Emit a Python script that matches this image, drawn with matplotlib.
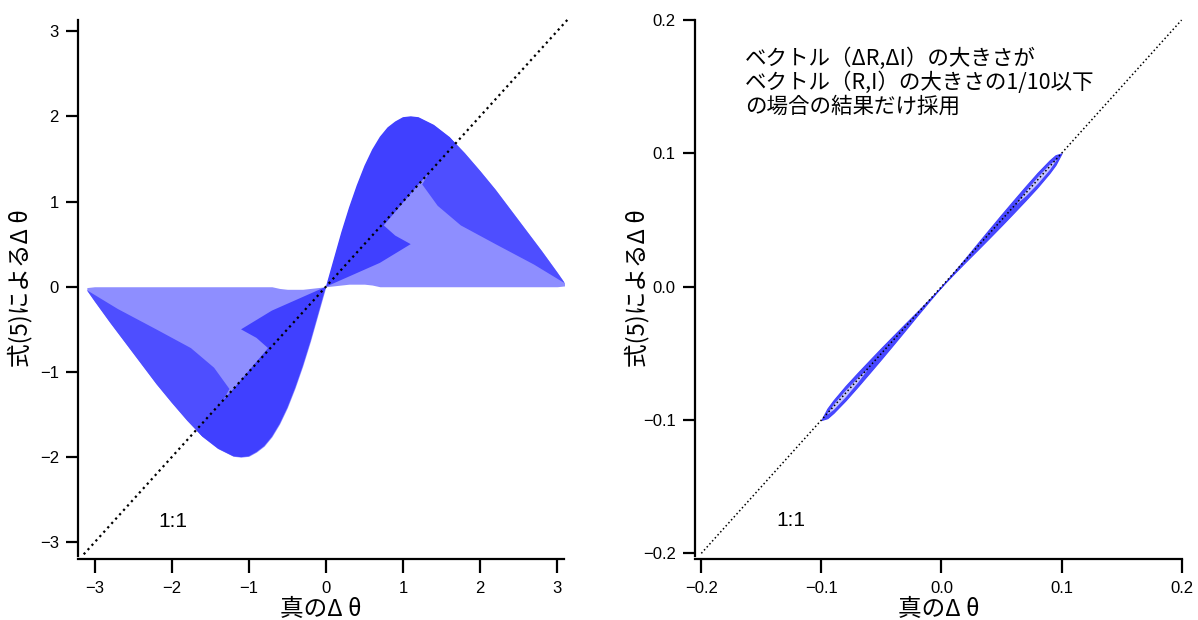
import numpy as np
import matplotlib.pyplot as plt
from matplotlib.ticker import FuncFormatter

# ---- left panel: envelope of the scattered points ----
# x > 0 side
env_x_pos = [0.0, 0.1, 0.2, 0.3, 0.4, 0.5, 0.6, 0.7, 0.8, 0.9, 1.0, 1.1, 1.2,
             1.4, 1.6, 1.8, 2.0, 2.2, 2.4, 2.6, 2.8, 3.0, 3.1]
env_top_pos = [0.0, 0.32, 0.64, 0.93, 1.19, 1.42, 1.61, 1.76, 1.87, 1.94, 1.99, 2.0, 1.99,
               1.9, 1.76, 1.57, 1.36, 1.14, 0.9, 0.66, 0.42, 0.17, 0.04]
env_bot_pos = [0.0, 0.01, 0.02, 0.03, 0.03, 0.03, 0.02, 0.0, 0.0, 0.0, 0.0, 0.0, 0.0,
               0.0, 0.0, 0.0, 0.0, 0.0, 0.0, 0.0, 0.0, 0.0, 0.01]
# x < 0 side
env_x_neg = [0.0, -0.1, -0.2, -0.3, -0.4, -0.5, -0.6, -0.7, -0.8, -0.9, -1.0, -1.1, -1.2,
             -1.4, -1.6, -1.8, -2.0, -2.2, -2.4, -2.6, -2.8, -3.0, -3.1]
env_bot_neg = [0.0, -0.32, -0.64, -0.93, -1.19, -1.42, -1.61, -1.76, -1.87, -1.94, -1.99, -2.0, -1.99,
               -1.9, -1.76, -1.57, -1.36, -1.14, -0.9, -0.66, -0.42, -0.17, -0.04]
env_top_neg = [0.0, -0.01, -0.02, -0.03, -0.03, -0.03, -0.02, 0.0, 0.0, 0.0, 0.0, 0.0, 0.0,
               0.0, 0.0, 0.0, 0.0, 0.0, 0.0, 0.0, 0.0, 0.0, -0.01]

# dense (solid) part: inner edge, going back towards the origin
dense_in_x_pos = [1.68, 1.2, 0.75, 0.9, 1.1, 0.7, 0.0]
dense_in_y_pos = [1.68, 1.2, 0.72, 0.6, 0.5, 0.28, 0.0]
dense_in_x_neg = [-1.68, -1.2, -0.75, -0.9, -1.1, -0.7, 0.0]
dense_in_y_neg = [-1.68, -1.2, -0.72, -0.6, -0.5, -0.28, 0.0]

# striped part of the hump: inner edge
mid_in_x_pos = [3.1, 2.7, 2.2, 1.75, 1.45, 1.25]
mid_in_y_pos = [0.04, 0.26, 0.5, 0.72, 0.95, 1.2]
mid_in_x_neg = [-3.1, -2.7, -2.2, -1.75, -1.45, -1.25]
mid_in_y_neg = [-0.04, -0.26, -0.5, -0.72, -0.95, -1.2]

one_to_one_left = [-3.14, 3.14]

# ---- right panel: thin lens along the 1:1 line ----
lens_x_pos = [0.0, 0.01, 0.02, 0.03, 0.04, 0.05, 0.06, 0.07, 0.08, 0.09, 0.095, 0.1]
lens_x_neg = [0.0, -0.01, -0.02, -0.03, -0.04, -0.05, -0.06, -0.07, -0.08, -0.09, -0.095, -0.1]
lens_half = [0.0, 0.0006, 0.0014, 0.0024, 0.0033, 0.0041, 0.0047, 0.0052, 0.0054, 0.0047, 0.0036, 0.0]
hole_x_pos = [0.062, 0.07, 0.08, 0.09, 0.096]
hole_x_neg = [-0.062, -0.07, -0.08, -0.09, -0.096]
hole_half = [0.0, 0.0018, 0.0025, 0.002, 0.0]

one_to_one_right = [-0.2, 0.2]

left_ticks = [-3, -2, -1, 0, 1, 2, 3]
right_ticks = [-0.2, -0.1, 0.0, 0.1, 0.2]

note = "ベクトル（ΔR,ΔI）の大きさが\nベクトル（R,I）の大きさの1/10以下\nの場合の結果だけ採用"
xlab = "真のΔ θ"
ylab = "式(5)によるΔ θ"

plt.rcParams['font.family'] = ['Liberation Sans', 'Noto Sans CJK JP', 'DejaVu Sans']
cjk = ['Noto Sans CJK JP', 'DejaVu Sans']

dense_c = '#4040ff'
mid_c = '#4e4eff'
light_c = '#8e8eff'

fig = plt.figure(figsize=(11.98, 6.2), dpi=100)
ax1 = fig.add_axes([0.0654, 0.1032, 0.4055, 0.8645])
ax2 = fig.add_axes([0.5804, 0.1032, 0.4059, 0.8645])


def style(ax):
    for s in ['top', 'right']:
        ax.spines[s].set_visible(False)
    for s in ['left', 'bottom']:
        ax.spines[s].set_linewidth(1.6)
    ax.spines['bottom'].set_position(('outward', 2.2))
    ax.tick_params(direction='out', width=1.6, labelsize=12)
    ax.tick_params(axis='x', length=10, pad=6)
    ax.tick_params(axis='y', length=9, pad=5)


# left panel
ax1.fill_between(env_x_pos, env_bot_pos, env_top_pos, color=light_c, lw=0)
ax1.fill_between(env_x_neg, env_bot_neg, env_top_neg, color=light_c, lw=0)

n = 15  # outer points up to x = 1.6
ax1.fill(env_x_pos[14:] + mid_in_x_pos, env_top_pos[14:] + mid_in_y_pos, color=mid_c, lw=0)
ax1.fill(env_x_neg[14:] + mid_in_x_neg, env_bot_neg[14:] + mid_in_y_neg, color=mid_c, lw=0)
ax1.fill(env_x_pos[:n] + dense_in_x_pos, env_top_pos[:n] + dense_in_y_pos, color=dense_c, lw=0)
ax1.fill(env_x_neg[:n] + dense_in_x_neg, env_bot_neg[:n] + dense_in_y_neg, color=dense_c, lw=0)

ax1.plot(one_to_one_left, one_to_one_left, ls=':', color='black', lw=1.6, clip_on=False)
ax1.text(-1.98, -2.75, "1:1", fontsize=15, ha='center', va='center')

ax1.set_xlim(-3.21, 3.09)
ax1.set_ylim(-3.16, 3.13)
ax1.set_xticks(left_ticks)
ax1.set_yticks(left_ticks)
style(ax1)

# right panel
up_pos = [x + h for x, h in zip(lens_x_pos, lens_half)]
lo_pos = [x - h for x, h in zip(lens_x_pos, lens_half)]
up_neg = [x + h for x, h in zip(lens_x_neg, lens_half)]
lo_neg = [x - h for x, h in zip(lens_x_neg, lens_half)]
ax2.fill_between(lens_x_pos, lo_pos, up_pos, facecolor='#4848ff', edgecolor=dense_c, lw=0.8)
ax2.fill_between(lens_x_neg, lo_neg, up_neg, facecolor='#4848ff', edgecolor=dense_c, lw=0.8)
ax2.fill_between(hole_x_pos, [x - h for x, h in zip(hole_x_pos, hole_half)],
                 [x + h for x, h in zip(hole_x_pos, hole_half)], color='#c4c4ff', lw=0)
ax2.fill_between(hole_x_neg, [x - h for x, h in zip(hole_x_neg, hole_half)],
                 [x + h for x, h in zip(hole_x_neg, hole_half)], color='#c4c4ff', lw=0)

ax2.plot(one_to_one_right, one_to_one_right, ls=':', color='black', lw=1.1, clip_on=False)
ax2.text(-0.125, -0.175, "1:1", fontsize=15, ha='center', va='center')
ax2.text(0.102, 0.948, note, transform=ax2.transAxes, fontsize=15.5, family=cjk,
         ha='left', va='top', linespacing=1.08)

ax2.set_xlim(-0.205, 0.2)
ax2.set_ylim(-0.202, 0.2)
ax2.set_xticks(right_ticks)
ax2.set_yticks(right_ticks)
fmt = FuncFormatter(lambda v, p: f"{abs(v):.1f}" if abs(v) < 1e-9 else f"{v:.1f}".replace('-', '\u2212'))
ax2.xaxis.set_major_formatter(fmt)
ax2.yaxis.set_major_formatter(fmt)
style(ax2)

for ax in (ax1, ax2):
    ax.set_xlabel(xlab, fontsize=17, family=cjk)
    ax.set_ylabel(ylab, fontsize=17, family=cjk)
    ax.xaxis.set_label_coords(0.5, -0.078)
    ax.yaxis.set_label_coords(-0.094, 0.5)

fig.savefig('out.png', dpi=100)
